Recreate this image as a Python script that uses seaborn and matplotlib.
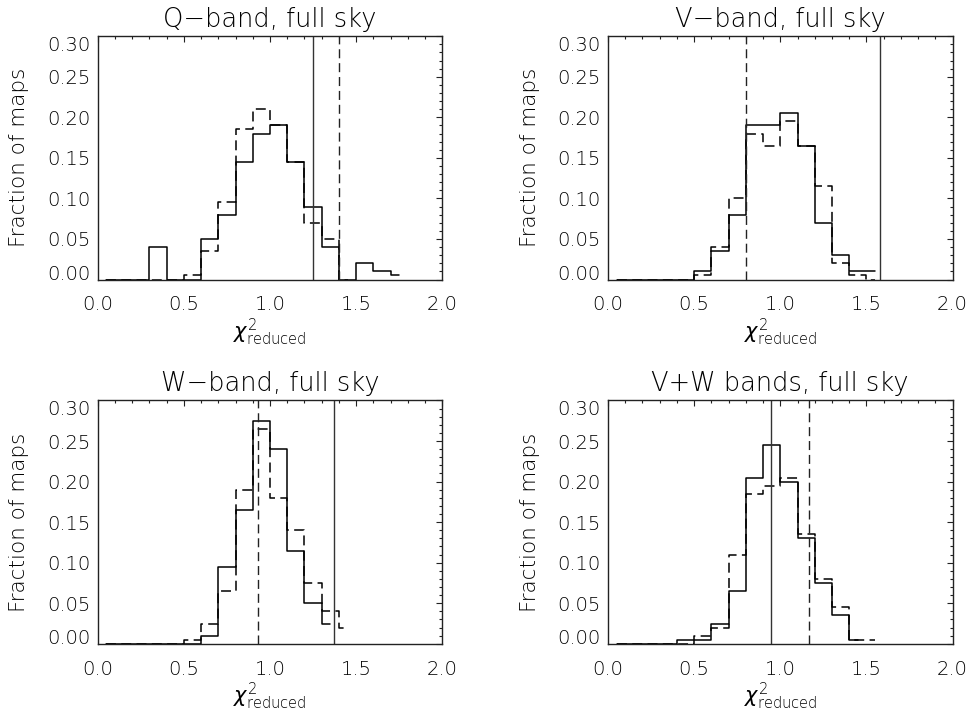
import matplotlib
matplotlib.use("Agg")
import matplotlib.pyplot as plt
import pandas as pd
import seaborn as sns

# ---------------- data ----------------
BIN_CENTERS = [0.05, 0.15, 0.25, 0.35, 0.45, 0.55, 0.65, 0.75, 0.85, 0.95,
               1.05, 1.15, 1.25, 1.35, 1.45, 1.55, 1.65, 1.75]

TITLES = ["Q\u2212band, full sky", "V\u2212band, full sky",
          "W\u2212band, full sky", "V+W bands, full sky"]

q_solid = [0, 0, 0, 0.04, 0, 0, 0.05, 0.08, 0.145, 0.18, 0.19, 0.145, 0.09, 0.04, 0, 0.02, 0.01, 0.005]
q_dashed = [0, 0, 0, 0, 0, 0.005, 0.035, 0.095, 0.185, 0.21, 0.19, 0.145, 0.07, 0.05, 0]

v_solid = [0, 0, 0, 0, 0, 0.01, 0.035, 0.08, 0.19, 0.19, 0.205, 0.165, 0.07, 0.03, 0.01, 0.01]
v_dashed = [0, 0, 0, 0, 0, 0.005, 0.04, 0.10, 0.18, 0.165, 0.195, 0.165, 0.115, 0.02, 0.005, 0]

w_solid = [0, 0, 0, 0, 0, 0, 0.01, 0.095, 0.165, 0.275, 0.24, 0.115, 0.05, 0.025]
w_dashed = [0, 0, 0, 0, 0, 0.005, 0.025, 0.065, 0.19, 0.265, 0.18, 0.14, 0.075, 0.04, 0.02]

vw_solid = [0, 0, 0, 0, 0.005, 0.005, 0.025, 0.065, 0.205, 0.245, 0.20, 0.13, 0.075, 0.035, 0.005]
vw_dashed = [0, 0, 0, 0, 0, 0.01, 0.02, 0.11, 0.185, 0.195, 0.205, 0.135, 0.08, 0.045, 0.005, 0.005]

SOLID_MARK = [1.25, 1.58, 1.37, 0.945]
DASHED_MARK = [1.40, 0.80, 0.93, 1.165]

SOLIDS = [q_solid, v_solid, w_solid, vw_solid]
DASHEDS = [q_dashed, v_dashed, w_dashed, vw_dashed]

X_TICKS = [0.0, 0.5, 1.0, 1.5, 2.0]
X_TICK_LABELS = ["0.0", "0.5", "1.0", "1.5", "2.0"]
Y_TICKS = [0.0, 0.05, 0.10, 0.15, 0.20, 0.25, 0.30]
Y_TICK_LABELS = ["0.00", "0.05", "0.10", "0.15", "0.20", "0.25", "0.30"]

# ---------------- style ----------------
sns.set_style("white")
plt.rcParams["font.family"] = ["DejaVu Sans"]
plt.rcParams["font.weight"] = 200
plt.rcParams["mathtext.fontset"] = "dejavusans"
TXT = "black"

fig = plt.figure(figsize=(9.72, 7.11), dpi=100)
W, H = 972.0, 711.0
lefts = [97.7, 608.0, 97.7, 608.0]
bottoms = [279.5, 279.5, 643.8, 643.8]
aw, ah = 344.6, 243.3

DASH = (0, (6.5, 3.5))

for i in range(4):
    ax = fig.add_axes([lefts[i] / W, (H - bottoms[i]) / H, aw / W, ah / H])
    sdf = pd.DataFrame({"x": BIN_CENTERS[:len(SOLIDS[i])], "y": SOLIDS[i]})
    ddf = pd.DataFrame({"x": BIN_CENTERS[:len(DASHEDS[i])], "y": DASHEDS[i]})
    sns.lineplot(data=sdf, x="x", y="y", ax=ax, estimator=None, sort=False,
                 drawstyle="steps-mid", color="black", linewidth=1.1)
    sns.lineplot(data=ddf, x="x", y="y", ax=ax, estimator=None, sort=False,
                 drawstyle="steps-mid", color="black", linewidth=1.1, linestyle=DASH)
    ax.axvline(SOLID_MARK[i], color="#333333", linewidth=1.0)
    ax.axvline(DASHED_MARK[i], color="#222222", linewidth=1.0, linestyle=DASH)

    ax.set_xlim(0, 2.0)
    ax.set_ylim(0, 0.30)
    ax.set_xticks(X_TICKS, X_TICK_LABELS)
    ax.set_yticks(Y_TICKS, Y_TICK_LABELS)
    ax.set_xticks([t / 10 for t in range(21)], minor=True)
    ax.set_yticks([t / 100 for t in range(31)], minor=True)
    ax.tick_params(which="both", direction="in", top=True, right=True,
                   color="#222222", width=0.8)
    ax.tick_params(which="major", length=4.5)
    ax.tick_params(which="minor", length=2.2)
    ax.tick_params(axis="x", which="major", pad=11.5, labelsize=14, labelcolor=TXT)
    ax.tick_params(axis="y", which="major", pad=5.5, labelsize=14, labelcolor=TXT)
    for sp in ax.spines.values():
        sp.set_color("#222222")
        sp.set_linewidth(1.0)

    ax.set_title(TITLES[i], fontsize=18.5, color=TXT, pad=6.5, fontweight=200)
    ax.set_ylabel("Fraction of maps", fontsize=15.5, color=TXT, va="center", fontweight=200)
    ax.yaxis.set_label_coords(-0.2275, 0.5)
    ax.set_xlabel(r"$\chi^2_{\rm reduced}$", fontsize=15, color=TXT, va="center")
    ax.xaxis.set_label_coords(0.5, -0.216)

    yt = ax.yaxis.get_major_ticks()
    yt[0].label1.set_va("baseline")
    yt[-1].label1.set_va("top")

fig.savefig("out.png", dpi=100)
